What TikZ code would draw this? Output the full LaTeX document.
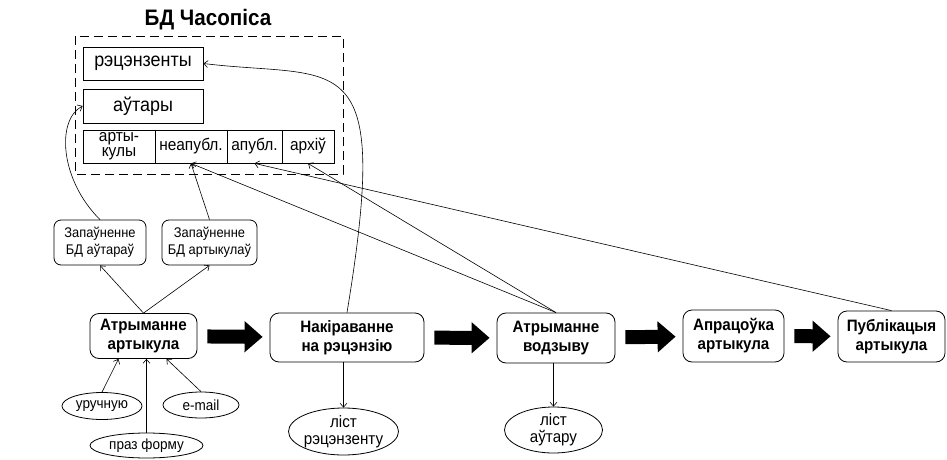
\documentclass[tikz,border=0pt]{standalone}
\usepackage{fontspec}
\setmainfont[FakeStretch=0.92]{Liberation Sans}
\usetikzlibrary{arrows.meta,shapes.geometric}

\tikzset{
  link/.style={-{Straight Barb[length=4pt,width=7pt]}, line width=0.6pt},
  bigarr/.style={line width=14pt, -{Triangle[length=18pt,width=30pt]}, shorten <=10pt, shorten >=7pt},
  tbl/.style={draw, rectangle, inner sep=0pt, line width=0.8pt, align=center, font=\fontsize{19.5}{20}\selectfont},
  cell/.style={tbl, minimum height=33, font=\fontsize{16.8}{15}\selectfont},
  zap/.style={draw, rounded corners=7pt, inner sep=0pt, line width=0.8pt, align=center, font=\fontsize{14}{17}\selectfont},
  proc/.style={draw, rounded corners=9pt, inner sep=0pt, line width=0.8pt, align=center, font=\bfseries\fontsize{16.5}{19}\selectfont},
  doc/.style={draw, ellipse, inner sep=-10pt, line width=0.8pt, align=center, font=\fontsize{14.7}{17}\selectfont},
}

\begin{document}
\begin{tikzpicture}[x=1pt, y=-1pt]
	\useasboundingbox (0,0) rectangle (947,460);
	% database
	\node[font=\bfseries\fontsize{22.4}{24}\selectfont] (title) at (208,20) {БД Часопіса};
	\draw[line width=0.8pt, dash pattern=on 9pt off 5pt] (75,36) rectangle (343,174);
	\node[tbl, minimum width=120, minimum height=33] (rec) at (143,63.5) {рэцэнзенты};
	\node[tbl, minimum width=120, minimum height=34] (avt) at (143,106)  {аўтары};
	\node[cell, minimum width=72] (art)  at (119,146.5)   {арты-\\кулы};
	\node[cell, minimum width=72] (neap) at (191,146.5)   {неапубл.};
	\node[cell, minimum width=55] (apub) at (254.5,146.5) {апубл.};
	\node[cell, minimum width=52] (arch) at (308,146.5)   {архіў};

	% filling the database
	\node[zap, minimum width=92, minimum height=45] (zavt) at (100,242.5)   {Запаўненне\\БД аўтараў};
	\node[zap, minimum width=95, minimum height=45] (zart) at (209.5,242.5) {Запаўненне\\БД артыкулаў};

	% process
	\node[proc, minimum width=107, minimum height=45] (p1) at (143.5,336) {Атрыманне\\артыкула};
	\node[proc, minimum width=154, minimum height=49] (p2) at (347,337.5) {Накіраванне\\на рэцэнзію};
	\node[proc, minimum width=118, minimum height=50] (p3) at (556,338)   {Атрыманне\\водзыву};
	\node[proc, minimum width=101, minimum height=52] (p4) at (733.5,336) {Апрацоўка\\артыкула};
	\node[proc, minimum width=107, minimum height=51] (p5) at (891.5,336.5) {Публікацыя\\артыкула};

	% documents
	\node[doc, minimum width=80,  minimum height=27] (e1) at (102,406)     {уручную};
	\node[doc, minimum width=76,  minimum height=26] (e2) at (201,405)     {e-mail};
	\node[doc, minimum width=113, minimum height=25] (e3) at (146.5,445.5) {праз форму};
	\node[doc, minimum width=110, minimum height=47, font=\fontsize{16.5}{17}\selectfont] (e4) at (343.5,431.5) {ліст\\рэцэнзенту};
	\node[doc, minimum width=98,  minimum height=46, font=\fontsize{16.5}{17}\selectfont] (e5) at (553.5,430)   {ліст\\аўтару};

	\foreach \u/\v in {p1/p2, p2/p3, p3/p4, p4/p5}
	{	\draw[bigarr] (\u) -- (\v);
	}
	\def\thin {p1.north/zavt.south, p1.north/zart.south, zart.north/neap.south,
	p3.north/neap.south, p3.north/arch.south, p5.north/apub.south}  % to the database
	\foreach \u/\v in \thin
	{	\draw[link] (\u) -- (\v);
	}
	\draw[link] (e1.north) -- ([xshift=-25]p1.south);
	\draw[link] (e2.north) -- ([xshift=23]p1.south);
	\draw[link] (e3.north) -- (e3.north |- p1.south);
	\draw[link] (e4.north |- p2.south) -- (e4.north);
	\draw[link] (e5.north |- p3.south) -- (e5.north);
	\draw[link] (zavt.north) .. controls (60,180) and (56,120) .. (avt.west);
	\draw[link] (p2.north) .. controls (392,40) and (340,80) .. (rec.east);
\end{tikzpicture}
\end{document}
